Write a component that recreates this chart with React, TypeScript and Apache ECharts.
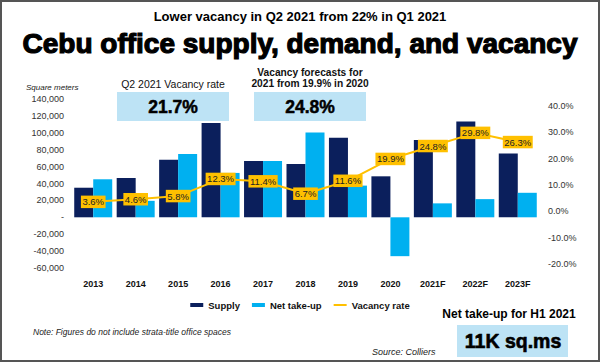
import React, { useEffect, useRef } from "react";
import * as echarts from "echarts";

const categories = ["2013", "2014", "2015", "2016", "2017", "2018", "2019", "2020", "2021F", "2022F", "2023F"];
const supply = [35000, 46500, 68000, 111500, 66500, 63000, 94000, 48500, 91500, 113500, 75500];
const netTakeUp = [45000, 19500, 75000, 52500, 66500, 100500, 37500, -46000, 16500, 21500, 29000];
const vacancyRate = [3.6, 4.6, 5.8, 12.3, 11.4, 6.7, 11.6, 19.9, 24.8, 29.8, 26.3];

const leftMin = -60000;
const leftMax = 140000;
const leftInterval = 20000;
const rightMin = -20;
const rightMax = 40;
const rightInterval = 10;

const FF = '"Liberation Sans", Arial, Helvetica, sans-serif';
const NAVY = "#0B1F5C";
const CYAN = "#00B0F0";
const GOLD = "#FFC000";
const BOX = "#BDE3F5";

export default function App() {
  const ref = useRef<HTMLDivElement>(null);
  useEffect(() => {
    if (!ref.current) return;
    const chart = echarts.init(ref.current, null, { renderer: "svg" });
    const txt = (x: number, y: number, text: string, s: any) => ({
      type: "text",
      x,
      y,
      z: 100,
      style: { text, fontFamily: FF, fill: "#000", align: "center", verticalAlign: "middle", ...s },
    });
    chart.setOption({
      animation: false,
      backgroundColor: "#fff",
      grid: [
        { left: 72, right: 61, top: 99, height: 169 },
        { left: 72, right: 61, top: 106, height: 158 },
      ],
      xAxis: [
        {
          type: "category",
          gridIndex: 0,
          data: categories,
          axisLine: { show: false, onZero: false },
          axisTick: { show: false },
          axisLabel: { margin: 11, fontSize: 9, fontWeight: "bold", color: "#111", fontFamily: FF },
        },
        {
          type: "category",
          gridIndex: 1,
          data: categories,
          show: false,
        },
      ],
      yAxis: [
        {
          type: "value",
          gridIndex: 0,
          min: leftMin,
          max: leftMax,
          interval: leftInterval,
          splitLine: { show: false },
          axisLine: { show: false },
          axisTick: { show: false },
          axisLabel: {
            margin: 8,
            fontSize: 9,
            color: "#333",
            fontFamily: FF,
            formatter: (v: number) => (v === 0 ? "-" : v.toLocaleString("en-US")),
          },
        },
        {
          type: "value",
          gridIndex: 1,
          position: "right",
          min: rightMin,
          max: rightMax,
          interval: rightInterval,
          splitLine: { show: false },
          axisLine: { show: false },
          axisTick: { show: false },
          axisLabel: {
            margin: 9,
            fontSize: 9,
            color: "#333",
            fontFamily: FF,
            formatter: (v: number) => `${v.toFixed(1)}%`,
          },
        },
      ],
      legend: {
        top: 295,
        left: "center",
        itemGap: 12,
        itemWidth: 13,
        itemHeight: 4,
        textStyle: { fontSize: 9.5, fontWeight: "bold", color: "#111", fontFamily: FF },
        data: [
          { name: "Supply", icon: "rect" },
          { name: "Net take-up", icon: "rect" },
          {
            name: "Vacancy rate",
            icon: "path://M0,0h0.1v0.1h-0.1z M0,1h13v2h-13z M0,3.9h0.1v0.1h-0.1z",
          },
        ],
      },
      series: [
        {
          name: "Supply",
          type: "bar",
          xAxisIndex: 0,
          yAxisIndex: 0,
          data: supply,
          barWidth: 19,
          barGap: "0%",
          itemStyle: { color: NAVY },
        },
        {
          name: "Net take-up",
          type: "bar",
          xAxisIndex: 0,
          yAxisIndex: 0,
          data: netTakeUp,
          barWidth: 19,
          barGap: "0%",
          itemStyle: { color: CYAN },
        },
        {
          name: "Vacancy rate",
          type: "line",
          xAxisIndex: 1,
          yAxisIndex: 1,
          data: vacancyRate,
          z: 5,
          symbol: "circle",
          symbolSize: 2,
          itemStyle: { color: GOLD },
          lineStyle: { color: GOLD, width: 2 },
          label: {
            show: true,
            position: "inside",
            formatter: (p: any) => `${p.value}%`,
            backgroundColor: GOLD,
            color: "#222",
            fontSize: 9.5,
            fontFamily: FF,
            padding: [1.5, 1.5, 1, 1.5],
          },
        },
      ],
      graphic: [
        {
          type: "rect",
          z: 100,
          shape: { x: 1, y: 1, width: 598, height: 360 },
          style: { fill: "none", stroke: "#555", lineWidth: 2 },
        },
        txt(300, 16, "Lower vacancy in Q2 2021 from 22% in Q1 2021", { fontSize: 13, fontWeight: "bold" }),
        txt(300, 43, "Cebu office supply, demand, and vacancy", {
          fontSize: 28,
          fontWeight: "bold",
          stroke: "#000",
          lineWidth: 1.2,
        }),
        txt(26, 87, "Square meters", { fontSize: 8, fontStyle: "italic", align: "left", fill: "#222" }),
        txt(173, 83.5, "Q2 2021 Vacancy rate", { fontSize: 10.5, fill: "#111" }),
        { type: "rect", z: 99, shape: { x: 117, y: 92, width: 112, height: 29 }, style: { fill: BOX } },
        txt(173, 106.5, "21.7%", { fontSize: 17.5, fontWeight: "bold", stroke: "#000", lineWidth: 0.5 }),
        txt(310, 72, "Vacancy forecasts for", { fontSize: 10.2, fontWeight: "bold", fill: "#111" }),
        txt(310, 83, "2021 from 19.9% in 2020", { fontSize: 10.2, fontWeight: "bold", fill: "#111" }),
        { type: "rect", z: 99, shape: { x: 254, y: 92, width: 112, height: 29 }, style: { fill: BOX } },
        txt(310, 106.5, "24.8%", { fontSize: 17.5, fontWeight: "bold", stroke: "#000", lineWidth: 0.5 }),
        txt(509, 314, "Net take-up for H1 2021", { fontSize: 12, fontWeight: "bold" }),
        { type: "rect", z: 99, shape: { x: 457, y: 325, width: 111, height: 32 }, style: { fill: BOX } },
        txt(513, 341, "11K sq.ms", { fontSize: 19.5, fontWeight: "bold", stroke: "#000", lineWidth: 0.6 }),
        txt(33, 332, "Note: Figures do not include strata-title office spaces", {
          fontSize: 8.5,
          fontStyle: "italic",
          align: "left",
          fill: "#222",
        }),
        txt(372, 352, "Source: Colliers", { fontSize: 9, fontStyle: "italic", align: "left", fill: "#222" }),
      ],
    });
    return () => chart.dispose();
  }, []);
  return (
    <div
      ref={ref}
      style={{ position: "absolute", left: 0, top: 0, width: 600, height: 363, background: "#fff" }}
    />
  );
}
